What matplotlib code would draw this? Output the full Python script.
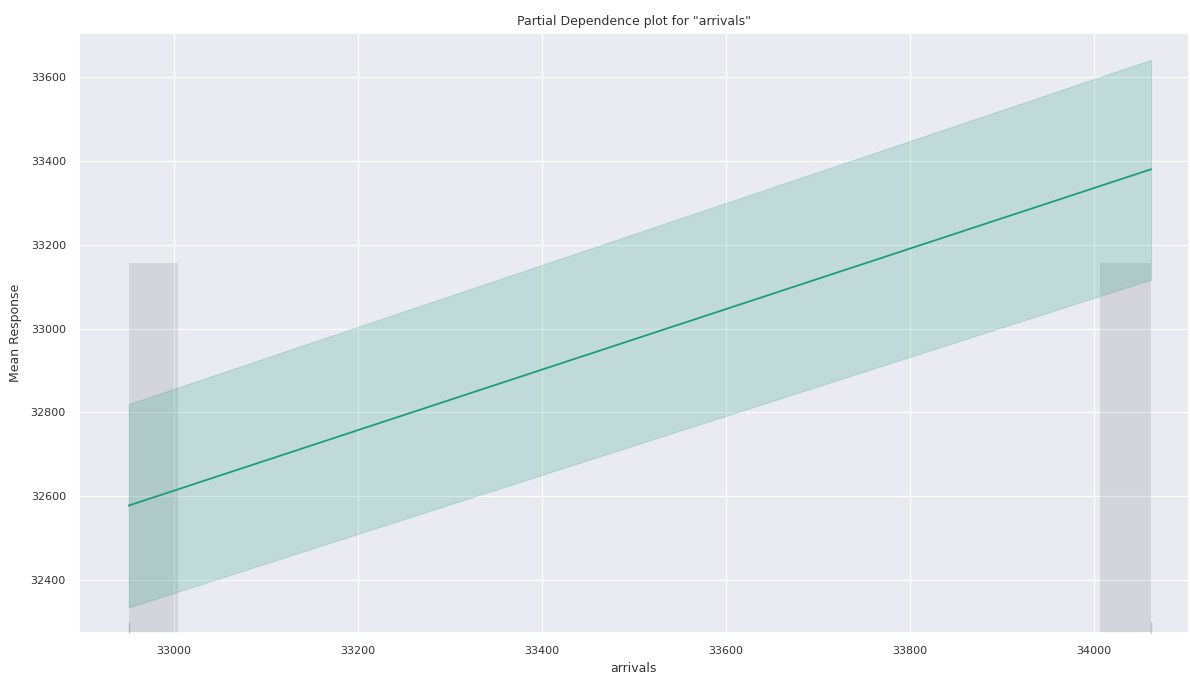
import matplotlib
matplotlib.use("Agg")
import matplotlib.pyplot as plt
import seaborn as sns
import numpy as np

# partial dependence values
grid_x = [32951, 34062]
mean_resp = [32578, 33380]
lower = [32335, 33117]
upper = [32820, 33641]

# histogram of the feature (two bins at the ends)
hist_left = [32951, 34007]
hist_width = [54, 55]
hist_height = [33156, 33156]

sns.set_theme(style="darkgrid")
plt.rcParams['font.family'] = ['DejaVu Sans']

fig = plt.figure(figsize=(11.9, 6.73), dpi=100)
ax = fig.add_axes([0.0664, 0.0594, 0.9326, 0.8916])

ymin, ymax = 32274, 33705
color = '#1b9e77'

ax.bar(hist_left, np.array(hist_height) - ymin, width=hist_width, bottom=ymin,
       align='edge', color='k', alpha=0.1, linewidth=0, zorder=1)
ax.fill_between(grid_x, lower, upper, color=color, alpha=0.2, linewidth=0.8, zorder=2)
ax.plot(grid_x, mean_resp, color=color, linewidth=1.3, zorder=3)
ax.plot(grid_x, [ymin] * len(grid_x), '|', color='k', alpha=0.2, markersize=16, zorder=3)

ax.set_xlim(32897, 34103)
ax.set_ylim(ymin, ymax)
ax.set_xticks([33000, 33200, 33400, 33600, 33800, 34000])
ax.set_yticks([32400, 32600, 32800, 33000, 33200, 33400, 33600])
ax.grid(True, linewidth=0.8)
ax.tick_params(labelsize=8, colors='#333333')
ax.set_xlabel('arrivals', fontsize=9, color='#333333', labelpad=4)
ax.set_ylabel('Mean Response', fontsize=9, color='#333333', labelpad=6)
ax.set_title('Partial Dependence plot for "arrivals"', fontsize=9, color='#333333', pad=6)

fig.savefig('out.png', dpi=100)
